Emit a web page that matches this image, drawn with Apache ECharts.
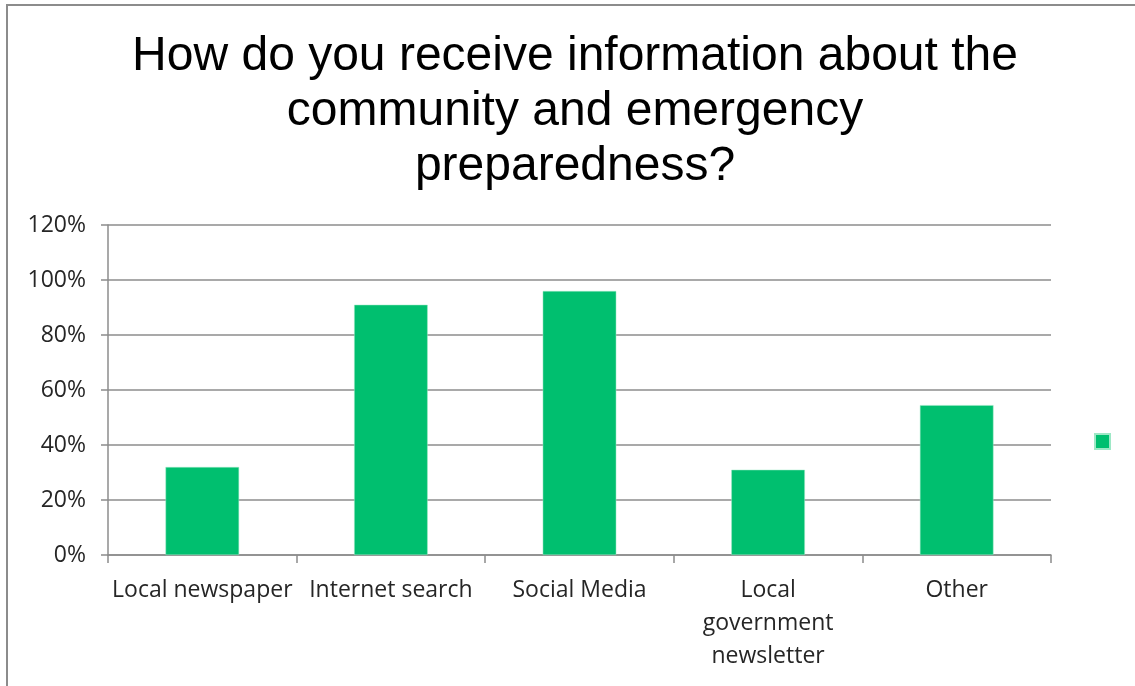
<!DOCTYPE html>
<html>
<head>
<meta charset="utf-8">
<script src="https://cdn.jsdelivr.net/npm/echarts@6/dist/echarts.min.js"></script>
<style>
html,body{margin:0;padding:0;background:#fff;}
#chart{width:1135px;height:686px;}
</style>
</head>
<body>
<div id="chart"></div>
<script>
const titleText = 'How do you receive information about the\ncommunity and emergency\npreparedness?';
const categories = ['Local newspaper', 'Internet search', 'Social Media', 'Local government newsletter', 'Other'];
const values = [0.32, 0.91, 0.96, 0.31, 0.545];
const yTicks = { min: 0, max: 1.2, interval: 0.2 };

const chart = echarts.init(document.getElementById('chart'));
const axisColor = '#8c8c8c';
const labelFont = 'Open Sans';
chart.setOption({
  animation: false,
  backgroundColor: '#fff',
  graphic: [{
    type: 'rect',
    shape: { x: 7, y: 5, width: 1200, height: 800 },
    style: { fill: 'none', stroke: '#8c8c8c', lineWidth: 2 },
    silent: true
  }],
  title: {
    text: titleText,
    left: 575,
    textAlign: 'center',
    top: 29,
    padding: 0,
    textStyle: {
      fontFamily: 'Liberation Sans',
      fontSize: 48,
      fontWeight: 'normal',
      color: '#000',
      lineHeight: 55
    }
  },
  legend: {
    left: 1094,
    top: 433,
    orient: 'vertical',
    padding: 0,
    itemWidth: 15,
    itemHeight: 15,
    icon: 'rect',
    data: [{ name: ' ' }],
    textStyle: { fontSize: 1 }
  },
  grid: { left: 108, right: 84, top: 225, bottom: 131, containLabel: false },
  xAxis: {
    type: 'category',
    data: categories,
    boundaryGap: true,
    axisLine: { lineStyle: { color: axisColor, width: 1.5 } },
    axisTick: { show: true, length: 8, lineStyle: { color: axisColor, width: 1.5 } },
    axisLabel: {
      interval: 0,
      margin: 19,
      fontFamily: labelFont,
      fontSize: 23,
      color: '#262626',
      lineHeight: 33,
      formatter: v => v.split(' ').length > 2 ? v.split(' ').join('\n') : v
    }
  },
  yAxis: {
    type: 'value',
    min: yTicks.min,
    max: yTicks.max,
    interval: yTicks.interval,
    axisLine: { show: true, lineStyle: { color: axisColor, width: 1.5 } },
    axisTick: { show: true, length: 7, lineStyle: { color: axisColor, width: 1.5 } },
    splitLine: { lineStyle: { color: axisColor, width: 1.5 } },
    axisLabel: {
      margin: 22,
      fontFamily: labelFont,
      fontSize: 23,
      color: '#262626',
      formatter: v => Math.round(v * 100) + '%'
    }
  },
  series: [{
    name: ' ',
    type: 'bar',
    data: values,
    barWidth: '39%',
    itemStyle: { color: '#00bf6f', borderColor: '#9ee8c6', borderWidth: 0.5 }
  }]
});
</script>
</body>
</html>
